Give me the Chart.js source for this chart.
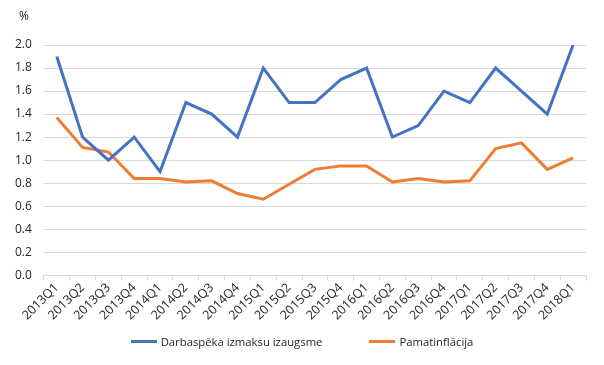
<!DOCTYPE html>
<html>
<head>
<meta charset="utf-8">
<script src="https://cdn.jsdelivr.net/npm/chart.js@4"></script>
<style>
  body { margin: 0; background: #fff; }
  #wrap { position: relative; width: 604px; height: 365px; }
  #legend { position: absolute; left: 0; top: 333px; width: 604px; height: 16px;
            display: flex; justify-content: center; align-items: center; gap: 47px;
            font-family: 'Open Sans', 'DejaVu Sans', sans-serif; font-size: 11.3px; color: #262626; }
  #legend .item { display: flex; align-items: center; white-space: nowrap; }
  #legend .swatch { display: inline-block; width: 26px; height: 3px; margin-right: 4px; }
</style>
</head>
<body>
<div id="wrap">
  <canvas id="chart" width="604" height="365"></canvas>
  <div id="legend"></div>
</div>
<script>
var quarters = ["2013Q1","2013Q2","2013Q3","2013Q4","2014Q1","2014Q2","2014Q3","2014Q4",
  "2015Q1","2015Q2","2015Q3","2015Q4","2016Q1","2016Q2","2016Q3","2016Q4",
  "2017Q1","2017Q2","2017Q3","2017Q4","2018Q1"];
var labourCost = [1.9,1.2,1.0,1.2,0.9,1.5,1.4,1.2,1.8,1.5,1.5,1.7,1.8,1.2,1.3,1.6,1.5,1.8,1.6,1.4,2.0];
var coreInflation = [1.37,1.11,1.07,0.84,0.84,0.81,0.82,0.71,0.66,0.79,0.92,0.95,0.95,0.81,0.84,0.81,0.82,1.10,1.15,0.92,1.02];
var seriesNames = ["Darbaspēka izmaksu izaugsme", "Pamatinflācija"];

var font = "'Open Sans', 'DejaVu Sans', sans-serif";

// "%" unit label above the y axis
var unitLabel = {
    id : "unitLabel",
    afterDraw : function(chart){
        var c = chart.ctx;
        c.save();
        c.font = "12px " + font;
        c.fillStyle = "#262626";
        c.textAlign = "left";
        c.textBaseline = "middle";
        c.fillText("%", 19, 17);
        c.restore();
    }
};

var ctx = document.getElementById("chart");

var chart = new Chart(ctx, {
    type : "line",
    data : {
        labels : quarters,
        datasets : [
            {
                label : seriesNames[0],
                data : labourCost,
                borderColor : "#4472c4",
                backgroundColor : "#4472c4",
                borderWidth : 3,
                pointRadius : 0,
                tension : 0,
                fill : false
            },
            {
                label : seriesNames[1],
                data : coreInflation,
                borderColor : "#ed7d31",
                backgroundColor : "#ed7d31",
                borderWidth : 3,
                pointRadius : 0,
                tension : 0,
                fill : false
            }
        ]
    },
    options : {
        responsive : false,
        animation : false,
        layout : {
            // rotated labels may hang into the y label area, like the original
            autoPadding : false,
            padding : { top : 45, right : 18, left : 3, bottom : 42 }
        },
        plugins : {
            legend : { display : false },
            tooltip : { enabled : false }
        },
        scales : {
            x : {
                offset : true,
                grid : {
                    offset : true,
                    drawOnChartArea : false,
                    tickLength : 5,
                    color : "#d9d9d9"
                },
                border : { display : true, color : "#d9d9d9" },
                ticks : {
                    minRotation : 45,
                    maxRotation : 45,
                    autoSkip : false,
                    color : "#262626",
                    padding : 0,
                    font : { family : font, size : 12.5 }
                }
            },
            y : {
                min : 0,
                max : 2.0,
                grid : { color : "#d9d9d9", drawTicks : false },
                border : { display : false },
                ticks : {
                    stepSize : 0.2,
                    padding : 12,
                    color : "#262626",
                    font : { family : font, size : 12 },
                    callback : function(v){ return v.toFixed(1); }
                }
            }
        }
    },
    plugins : [unitLabel]
});

// legend built from the chart's own datasets
var legendBox = document.getElementById("legend");
chart.data.datasets.forEach(function(ds){
    var item = document.createElement("span");
    item.className = "item";
    var sw = document.createElement("span");
    sw.className = "swatch";
    sw.style.background = ds.borderColor;
    item.appendChild(sw);
    item.appendChild(document.createTextNode(ds.label));
    legendBox.appendChild(item);
});
</script>
</body>
</html>
